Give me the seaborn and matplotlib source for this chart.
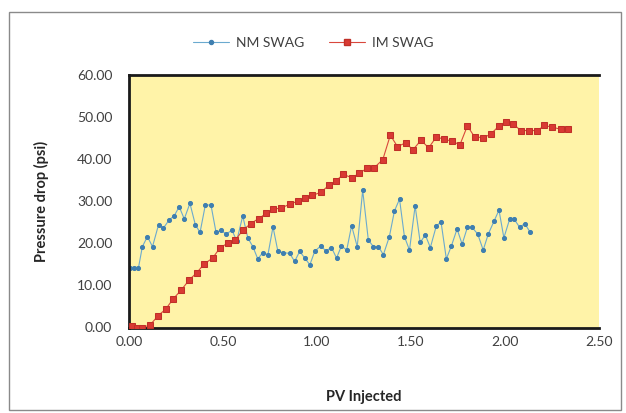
import matplotlib
matplotlib.use("Agg")
import matplotlib.pyplot as plt
import seaborn as sns
import pandas as pd
from matplotlib.patches import Rectangle
from matplotlib.lines import Line2D

nm_pv = [0.0, 0.004, 0.027, 0.05, 0.071, 0.098, 0.125, 0.157, 0.183, 0.214, 0.24, 0.267, 0.294, 0.324,
         0.353, 0.378, 0.406, 0.436, 0.463, 0.49, 0.516, 0.548, 0.573, 0.605, 0.632, 0.659, 0.685, 0.712,
         0.739, 0.766, 0.792, 0.819, 0.855, 0.881, 0.908, 0.935, 0.962, 0.988, 1.02, 1.047, 1.077, 1.104,
         1.13, 1.158, 1.184, 1.214, 1.243, 1.273, 1.30, 1.327, 1.353, 1.385, 1.412, 1.439, 1.465, 1.492,
         1.522, 1.549, 1.576, 1.603, 1.635, 1.66, 1.688, 1.715, 1.745, 1.772, 1.80, 1.825, 1.855, 1.884,
         1.911, 1.941, 1.968, 1.994, 2.025, 2.048, 2.078, 2.105, 2.133]
nm_dp = [0, 14.1, 14.1, 14.1, 19.2, 21.6, 19.2, 24.4, 23.6, 25.6, 26.5, 28.7, 25.8, 29.5, 24.4, 22.6,
         29.1, 29.1, 22.6, 23.1, 22.2, 23.1, 20.6, 26.5, 21.3, 19.2, 16.3, 17.8, 17.3, 23.9, 18.1, 17.8,
         17.6, 15.7, 18.1, 16.5, 14.9, 18.1, 19.4, 18.2, 19.0, 16.5, 19.4, 18.4, 24.2, 19.2, 32.6, 20.8,
         19.2, 19.2, 17.3, 21.6, 27.7, 30.5, 21.6, 18.4, 28.9, 20.2, 22.0, 19.0, 24.2, 25.0, 16.3, 19.4,
         23.4, 19.8, 23.8, 23.8, 22.2, 18.4, 22.2, 25.2, 27.9, 21.3, 25.8, 25.8, 23.8, 24.7, 22.7]

im_pv = [0.0, 0.018, 0.044, 0.071, 0.112, 0.155, 0.196, 0.235, 0.278, 0.32, 0.36, 0.40, 0.445, 0.485,
         0.525, 0.566, 0.605, 0.648, 0.69, 0.73, 0.766, 0.81, 0.855, 0.897, 0.935, 0.976, 1.019, 1.064,
         1.10, 1.14, 1.184, 1.225, 1.264, 1.305, 1.35, 1.39, 1.428, 1.473, 1.51, 1.553, 1.594, 1.635,
         1.677, 1.718, 1.76, 1.80, 1.838, 1.884, 1.923, 1.968, 2.003, 2.044, 2.083, 2.128, 2.172, 2.21,
         2.252, 2.297, 2.336]
im_dp = [0, 0.3, 0, 0, 0.6, 2.8, 4.4, 6.8, 8.9, 11.3, 13.0, 15.1, 16.5, 19.0, 20.0, 20.8, 23.1, 24.7,
         25.9, 27.1, 28.1, 28.4, 29.3, 30.0, 30.7, 31.4, 32.1, 33.8, 34.8, 36.4, 35.6, 36.6, 37.8, 38.0,
         39.9, 45.7, 43.0, 43.9, 42.2, 44.5, 42.7, 45.3, 44.7, 44.3, 43.4, 47.9, 45.3, 45.1, 45.9, 47.9,
         48.9, 48.4, 46.8, 46.8, 46.8, 48.0, 47.6, 47.1, 47.1]

x_ticks = [0.0, 0.5, 1.0, 1.5, 2.0, 2.5]
y_ticks = [0, 10, 20, 30, 40, 50, 60]
series_names = ["NM SWAG", "IM SWAG"]

sns.set_theme(style="white")
plt.rcParams['font.family'] = ['Lato', 'DejaVu Sans']

W, H = 626, 413
fig = plt.figure(figsize=(W / 100, H / 100), dpi=100)
fig.patch.set_facecolor("white")
fig.add_artist(Rectangle((9 / W, 3 / H), 612 / W, 398 / H, transform=fig.transFigure,
                         fill=False, edgecolor="#8a8a8a", linewidth=1.0))

ax = fig.add_axes([129 / W, 1 - 327.5 / H, 470 / W, 252.5 / H])
ax.set_facecolor("#FFF3A8")

nm_df = pd.DataFrame({"pv": nm_pv, "dp": nm_dp})
im_df = pd.DataFrame({"pv": im_pv, "dp": im_dp})

blue_line = "#6BAACF"
blue_mark = "#3F7FB0"
red_line = "#D9473C"
red_mark = "#D93A33"

sns.lineplot(data=nm_df, x="pv", y="dp", ax=ax, sort=False, color=blue_line, linewidth=0.8,
             marker="o", markersize=2.9, markerfacecolor=blue_mark, markeredgecolor=blue_mark,
             estimator=None)
sns.lineplot(data=im_df, x="pv", y="dp", ax=ax, sort=False, color=red_line, linewidth=0.8,
             marker="s", markersize=3.8, markerfacecolor=red_mark, markeredgecolor="#C03028",
             estimator=None, zorder=3)

ax.set_xlim(0, 2.5)
ax.set_ylim(0, 60)
ax.set_xticks(x_ticks)
ax.set_yticks(y_ticks)
ax.set_xticklabels([f"{v:.2f}" for v in x_ticks])
ax.set_yticklabels([f"{v:.2f}" for v in y_ticks])
ax.tick_params(axis="both", labelsize=10, colors="#404040", length=0)
ax.tick_params(axis="y", pad=12)
ax.tick_params(axis="x", pad=6)

for side in ["left", "top", "bottom"]:
    ax.spines[side].set_visible(True)
    ax.spines[side].set_color("#1a1a1a")
    ax.spines[side].set_linewidth(2.0)
ax.spines["right"].set_visible(False)

ax.set_xlabel("PV Injected", fontsize=10.5, fontweight="bold", color="#262626", labelpad=30)
ax.set_ylabel("Pressure drop (psi)", fontsize=10.5, fontweight="bold", color="#262626", labelpad=20)

handles = [
    Line2D([], [], color=blue_line, linewidth=0.8, marker="o", markersize=2.9,
           markerfacecolor=blue_mark, markeredgecolor=blue_mark),
    Line2D([], [], color=red_line, linewidth=0.8, marker="s", markersize=3.8,
           markerfacecolor=red_mark, markeredgecolor="#C03028"),
]
fig.legend(handles, series_names, loc="center", bbox_to_anchor=(0.50, 1 - 43 / H), ncol=2,
           frameon=False, fontsize=10, handlelength=2.6, columnspacing=1.8, handletextpad=0.5,
           labelcolor="#404040")

fig.savefig("out.png", dpi=100)
